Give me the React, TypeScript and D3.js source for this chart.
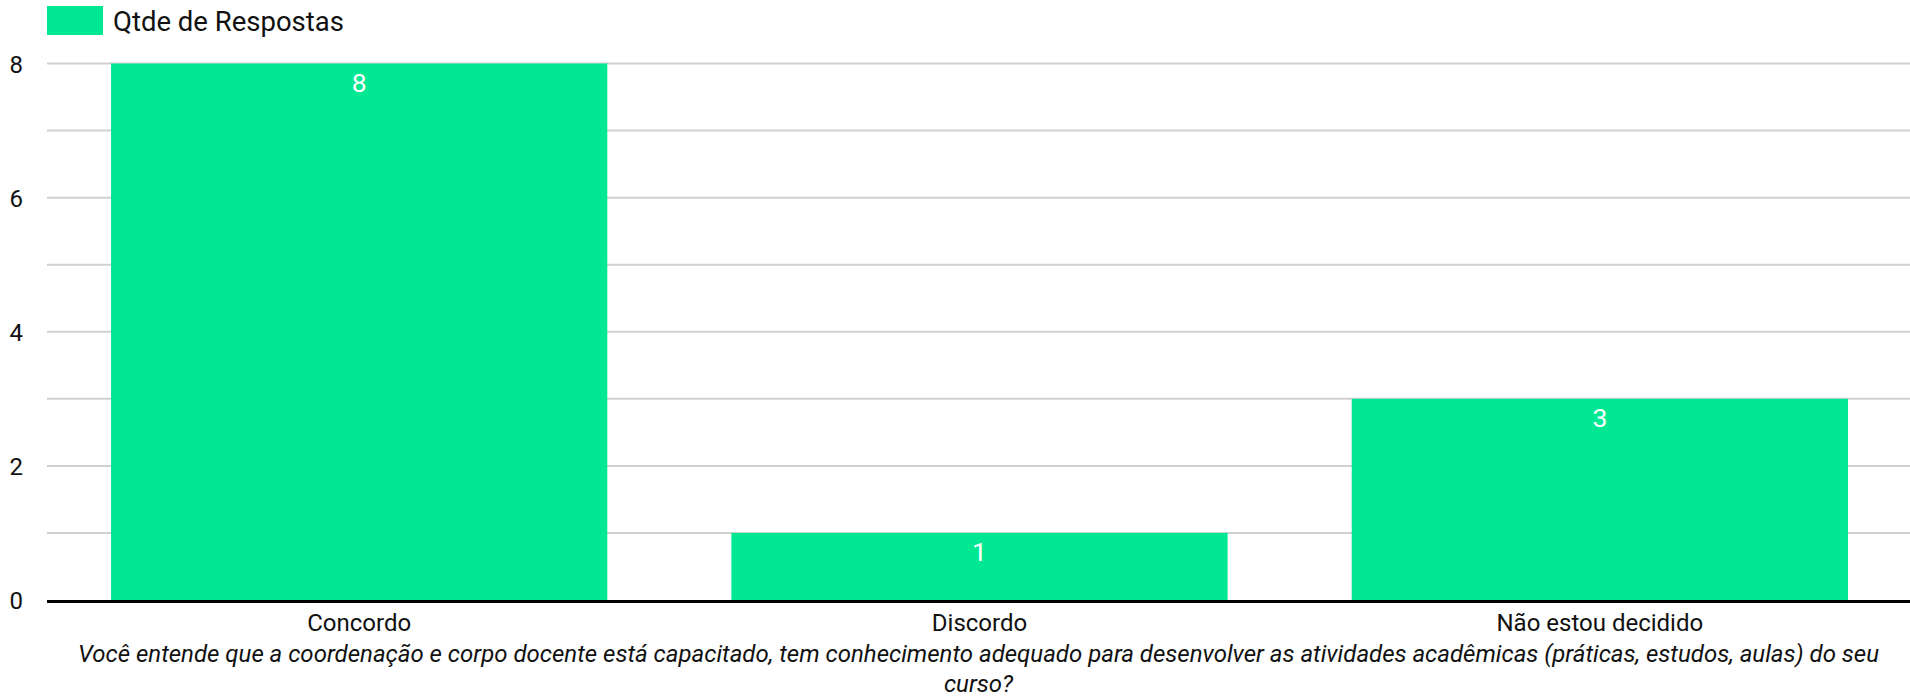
import React from "react";
import * as d3 from "d3";

const categories: string[] = ["Concordo", "Discordo", "Não estou decidido"];
const values: number[] = [8, 1, 3];
const seriesName = "Qtde de Respostas";
const yTickLabels: number[] = [0, 2, 4, 6, 8];
const gridValues: number[] = [1, 2, 3, 4, 5, 6, 7, 8];
const axisTitleLines: string[] = [
  "Você entende que a coordenação e corpo docente está capacitado, tem conhecimento adequado para desenvolver as atividades acadêmicas (práticas, estudos, aulas) do seu",
  "curso?",
];

const W = 1910;
const H = 700;
const BAR = "#00e891";
const FONT = "Roboto, 'Noto Sans', sans-serif";

export default function App() {
  const x = d3
    .scaleBand<string>()
    .domain(categories)
    .range([49, 1910])
    .paddingInner(0.2)
    .paddingOuter(0.1);
  const y = d3.scaleLinear().domain([0, 8]).range([600, 63.5]);
  const cx = (47 + 1910) / 2;

  return (
    <svg
      width={W}
      height={H}
      style={{ position: "absolute", left: 0, top: 0, fontFamily: FONT }}
    >
      <rect width={W} height={H} fill="#fff" />
      {/* legend */}
      <rect x={47} y={6} width={56} height={29} fill={BAR} />
      <text x={113} y={30.5} fontSize={27.5} fill="#111">
        {seriesName}
      </text>
      {/* grid */}
      {gridValues.map((v) => (
        <line
          key={v}
          x1={47}
          x2={W}
          y1={y(v)}
          y2={y(v)}
          stroke="#d0d0d0"
          strokeWidth={2}
        />
      ))}
      {/* y tick labels */}
      {yTickLabels.map((v) => (
        <text
          key={v}
          x={23}
          y={y(v) + 1}
          fontSize={24}
          textAnchor="end"
          dominantBaseline="central"
          fill="#111"
        >
          {v}
        </text>
      ))}
      {/* bars */}
      {categories.map((c, i) => (
        <g key={c}>
          <rect
            x={x(c)}
            y={y(values[i])}
            width={x.bandwidth()}
            height={y(0) - y(values[i])}
            fill={BAR}
          />
          <text
            x={(x(c) as number) + x.bandwidth() / 2}
            y={y(values[i]) + 28.5}
            fontSize={26.5}
            textAnchor="middle"
            fill="#fff"
          >
            {values[i]}
          </text>
          <text
            x={(x(c) as number) + x.bandwidth() / 2}
            y={630.5}
            fontSize={24}
            textAnchor="middle"
            fill="#111"
          >
            {c}
          </text>
        </g>
      ))}
      {/* x axis line */}
      <line x1={47} x2={W} y1={601.5} y2={601.5} stroke="#000" strokeWidth={3} />
      {/* axis title */}
      {axisTitleLines.map((l, i) => (
        <text
          key={i}
          x={cx}
          y={661.5 + i * 30}
          fontSize={24}
          fontStyle="italic"
          textAnchor="middle"
          fill="#111"
        >
          {l}
        </text>
      ))}
    </svg>
  );
}
